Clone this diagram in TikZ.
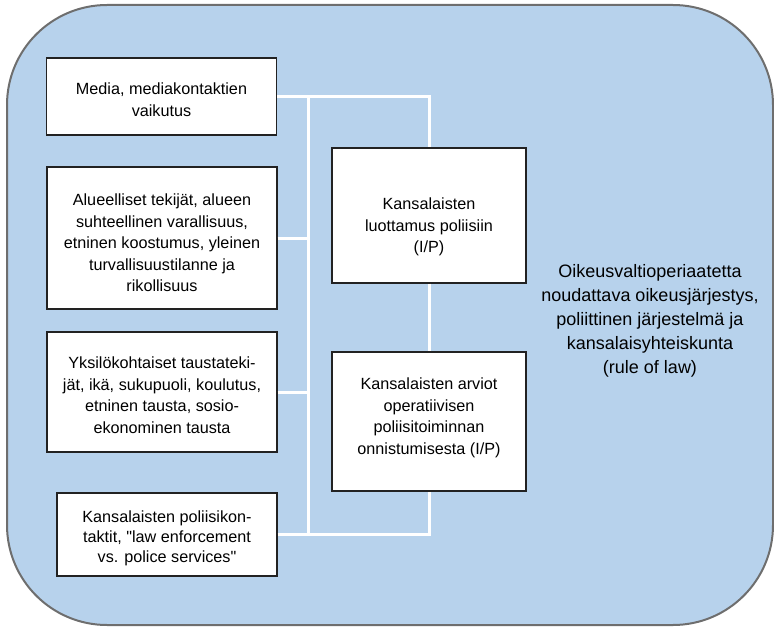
\documentclass[tikz,border=0pt]{standalone}
\usepackage{fontspec}
\setmainfont{Liberation Sans}[Ligatures=TeXOff]
\definecolor{panelfill}{RGB}{183,210,236}
\definecolor{paneledge}{RGB}{110,110,110}
\definecolor{boxedge}{RGB}{34,34,34}
\begin{document}
\begin{tikzpicture}[x=1bp,y=-1bp,
  panel/.style={draw=paneledge, line width=2bp, fill=panelfill, rounded corners=100bp},
  box/.style={draw=boxedge, line width=1.1bp, fill=white, inner sep=0pt},
  txt/.style={align=center, inner sep=0pt, font=\fontsize{16.2bp}{21.5bp}\selectfont},
  bigtxt/.style={align=center, inner sep=0pt, font=\fontsize{18bp}{24bp}\selectfont},
  wire/.style={draw=white, line width=3bp}]
\useasboundingbox (0,0) rectangle (774,627);

% outer rounded panel
\draw[panel] (7,5) rectangle (773,625);

% boxes on the left
\node[box, minimum width=230bp, minimum height=77bp]  (media) at (161.5,96.5) {};
\node[box, minimum width=230bp, minimum height=142bp] (alue)  at (162,238) {};
\node[box, minimum width=230bp, minimum height=120bp] (yksi)  at (162,392) {};
\node[box, minimum width=220bp, minimum height=83bp]  (kont)  at (167,534.5) {};
% boxes in the middle
\node[box, minimum width=194bp, minimum height=135bp] (luot)  at (429,215.5) {};
\node[box, minimum width=194bp, minimum height=139bp] (arv)   at (429,421.5) {};

% connectors
\coordinate (bustop) at (308,96.5);
\coordinate (busbot) at (308,534.5);
\draw[wire] (media.east) -| (luot.north);
\draw[wire] (bustop) -- (busbot);
\draw[wire] (alue.east) -- (alue.east -| bustop);
\draw[wire] (yksi.east) -- (yksi.east -| bustop);
\draw[wire] (kont.east) -| (arv.south);
\draw[wire] (luot.south) -- (arv.north);

% box texts
\node[txt] (mediat) at (161.5,99.9) {Media, mediakontaktien\\vaikutus};
\node[txt] (aluet) at (162,242.9) {Alueelliset tekijät, alueen\\suhteellinen varallisuus,\\etninen koostumus, yleinen\\turvallisuustilanne ja\\rikollisuus};
\node[txt] (yksit) at (162,395.4) {Yksilökohtaiset taustateki-\\jät, ikä, sukupuoli, koulutus,\\etninen tausta, sosio-\\ekonominen tausta};
\node[txt, font=\fontsize{16.2bp}{20bp}\selectfont] (kontt) at (167,538.1) {Kansalaisten poliisikon-\\taktit, "law enforcement\\vs. police services"};
\node[txt] (luott) at (429,227.1) {Kansalaisten\\luottamus poliisiin\\(I/P)};
\node[txt] (arvt) at (429,417.6) {Kansalaisten arviot\\operatiivisen\\poliisitoiminnan\\onnistumisesta (I/P)};

% panel caption
\node[bigtxt] (rol) at (650,320.5) {Oikeusvaltioperiaatetta\\noudattava oikeusjärjestys,\\poliittinen järjestelmä ja\\kansalaisyhteiskunta\\(rule of law)};
\end{tikzpicture}
\end{document}
